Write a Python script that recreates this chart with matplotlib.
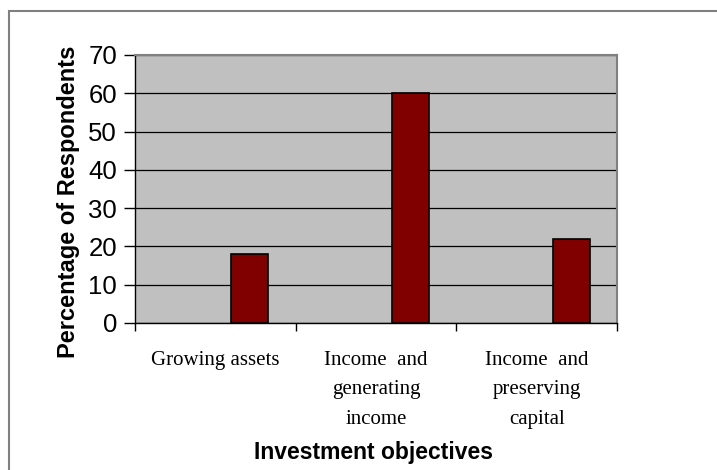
import numpy as np
import matplotlib
matplotlib.use("Agg")
import matplotlib.pyplot as plt
from matplotlib.patches import Rectangle

# survey results: share of respondents by investment objective
objectives = ["Growing assets",
              "Income  and\ngenerating\nincome",
              "Income  and\npreserving\ncapital"]
percent = [18, 60, 22]
y_ticks = [0, 10, 20, 30, 40, 50, 60, 70]

BAR = "#800000"
PLOT_BG = "#C0C0C0"

fig = plt.figure(figsize=(7.17, 4.70), dpi=100)
W, H = 717, 470
ax = fig.add_axes([135 / W, 1 - 323 / H, (617 - 135) / W, (323 - 55) / H])

# outer chart-area border (runs off the right and bottom edges)
fig.patches.append(Rectangle((9 / W, -0.05), 1.0, 1 - 11 / H + 0.05,
                             transform=fig.transFigure, fill=False,
                             edgecolor="#808080", lw=1.5))

x = np.arange(len(objectives))
ax.set_facecolor(PLOT_BG)
ax.bar(x + 0.215, percent, width=0.23, color=BAR, edgecolor="black",
       lw=1.2, zorder=3)

ax.set_xlim(-0.5, len(objectives) - 0.5)
ax.set_ylim(0, 70)
ax.set_yticks(y_ticks)
ax.yaxis.grid(True, color="black", lw=0.9, zorder=1)
ax.set_axisbelow(True)

# category boundaries carry the tick marks, labels sit in between
ax.set_xticks(np.arange(len(objectives) + 1) - 0.5)
ax.set_xticklabels([])
ax.set_xticks(x, minor=True)
ax.set_xticklabels(objectives, minor=True, family="Liberation Serif",
                   fontsize=15, linespacing=1.75, va="top")
ax.tick_params(axis="x", which="minor", length=0, pad=20)
ax.tick_params(axis="x", which="major", length=6, width=1, color="black")
ax.tick_params(axis="y", length=8, width=1, pad=5, labelsize=18.5,
               colors="black")
for t in ax.get_yticklabels():
    t.set_family("Liberation Sans")

for side in ("top", "right"):
    ax.spines[side].set_color("#808080")
    ax.spines[side].set_linewidth(1.5)
for side in ("left", "bottom"):
    ax.spines[side].set_color("black")
    ax.spines[side].set_linewidth(1.0)

fig.text(69 / W, 1 - 202 / H, "Percentage of Respondents", rotation=90,
         ha="center", va="center", fontsize=17, fontweight="bold",
         family="Liberation Sans")
fig.text(374 / W, 1 - 452 / H, "Investment objectives", ha="center",
         va="center", fontsize=16.5, fontweight="bold",
         family="Liberation Sans")

fig.savefig("out.png", dpi=100)
